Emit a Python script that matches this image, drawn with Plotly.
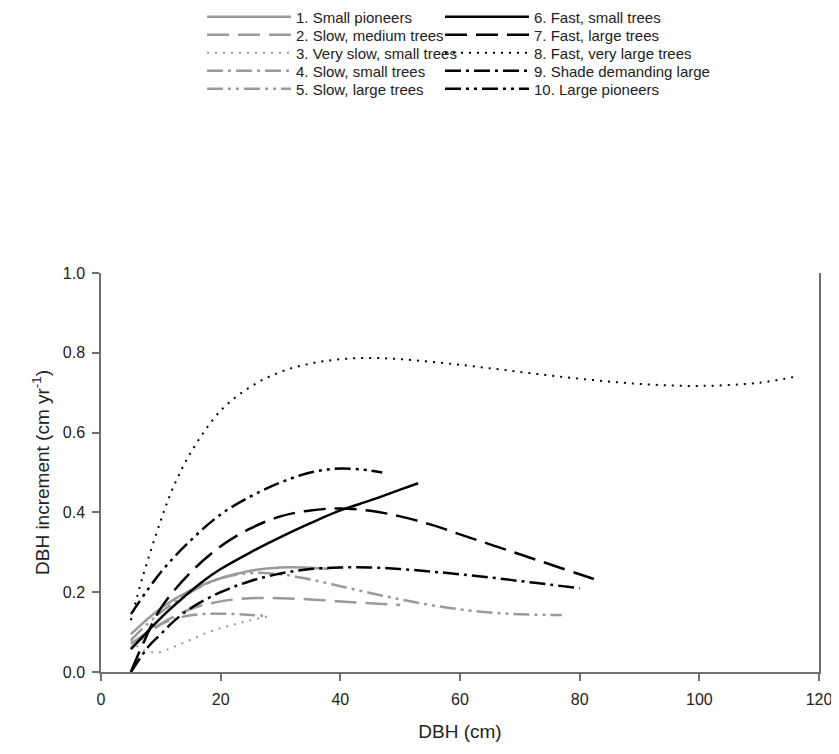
import plotly.graph_objects as go

names = ["1. Small pioneers", "2. Slow, medium trees", "3. Very slow, small trees",
         "4. Slow, small trees", "5. Slow, large trees", "6. Fast, small trees",
         "7. Fast, large trees", "8. Fast, very large trees", "9. Shade demanding large",
         "10. Large pioneers"]

x1 = [5, 10, 15, 20, 25, 30, 35, 38]
y1 = [0.095, 0.16, 0.205, 0.235, 0.254, 0.262, 0.261, 0.258]

x2 = [5, 10, 15, 20, 25, 30, 35, 40, 45, 50]
y2 = [0.06, 0.12, 0.158, 0.177, 0.185, 0.185, 0.182, 0.177, 0.172, 0.168]

x3 = [5, 6, 7.5, 9, 10, 12, 15, 18, 21, 24, 28]
y3 = [0.08, 0.065, 0.053, 0.049, 0.05, 0.062, 0.081, 0.1, 0.114, 0.126, 0.14]

x4 = [5, 10, 15, 20, 25, 28]
y4 = [0.07, 0.12, 0.142, 0.146, 0.143, 0.14]

x5 = [5, 10, 15, 20, 25, 30, 35, 40, 45, 50, 55, 60, 65, 70, 75, 77]
y5 = [0.08, 0.15, 0.2, 0.235, 0.248, 0.245, 0.232, 0.215, 0.198, 0.182, 0.168,
      0.157, 0.149, 0.145, 0.143, 0.143]

x6 = [5, 8, 11, 14, 17, 20, 25, 30, 35, 40, 45, 50, 53]
y6 = [0.057, 0.105, 0.15, 0.19, 0.227, 0.258, 0.3, 0.338, 0.373, 0.405, 0.43, 0.457, 0.473]

x7 = [5, 7, 10, 15, 20, 25, 30, 35, 40, 45, 50, 55, 60, 65, 70, 75, 80, 83]
y7 = [0.0, 0.07, 0.16, 0.25, 0.315, 0.36, 0.39, 0.405, 0.41, 0.404, 0.39, 0.37,
      0.345, 0.32, 0.295, 0.27, 0.245, 0.23]

x8 = [5, 7, 10, 12, 15, 20, 25, 30, 35, 40, 45, 50, 60, 70, 80, 90, 100, 110, 116]
y8 = [0.13, 0.24, 0.38, 0.46, 0.55, 0.655, 0.715, 0.752, 0.773, 0.784, 0.787, 0.784,
      0.77, 0.752, 0.735, 0.722, 0.717, 0.725, 0.74]

x9 = [5, 8, 10, 12, 15, 20, 25, 30, 35, 40, 45, 50, 55, 60, 65, 70, 75, 80]
y9 = [0.0, 0.065, 0.095, 0.125, 0.16, 0.2, 0.228, 0.247, 0.258, 0.262, 0.262, 0.258,
      0.252, 0.245, 0.237, 0.228, 0.219, 0.21]

x10 = [5, 10, 15, 20, 25, 30, 35, 40, 45, 47]
y10 = [0.145, 0.25, 0.33, 0.395, 0.44, 0.475, 0.5, 0.51, 0.505, 0.5]

GRAY = "#9a9a9a"
BLACK = "#000000"
LONGDASH = "22px,9px"
DOT = "2px,6px"
DASHDOT = "16px,5px,3px,5px"
DASHDOTDOT = "16px,5px,3px,5px,3px,5px"

series = [
    (x1, y1, GRAY, "solid", 2.5),
    (x2, y2, GRAY, LONGDASH, 2.5),
    (x3, y3, GRAY, DOT, 2),
    (x4, y4, GRAY, DASHDOT, 2.5),
    (x5, y5, GRAY, DASHDOTDOT, 2.5),
    (x6, y6, BLACK, "solid", 2.5),
    (x7, y7, BLACK, LONGDASH, 2.5),
    (x8, y8, BLACK, DOT, 2),
    (x9, y9, BLACK, DASHDOT, 2.5),
    (x10, y10, BLACK, DASHDOTDOT, 2.5),
]

# The page body adds an 8px offset; figure coordinates are compensated for it.
OFF = 8
L, R, T, B = 101 - OFF, 20 + OFF, 273 - OFF, 82 + OFF
W, H = 839, 754
pw, ph = W - L - R, H - T - B
row_px = [17 - OFF, 35 - OFF, 53 - OFF, 71 - OFF, 89 - OFF]
col_px = [202 - OFF, 440 - OFF]

fig = go.Figure()
legends = {}
for i, (xs, ys, col, dash, w) in enumerate(series):
    key = "legend" if i == 0 else f"legend{i + 1}"
    fig.add_trace(go.Scatter(x=xs, y=ys, mode="lines", name=names[i], legend=key,
                             line=dict(color=col, dash=dash, width=w, shape="spline", smoothing=1.0)))
    c, r = divmod(i, 5)
    legends[key] = dict(
        x=(col_px[c] - L) / pw, xanchor="left",
        y=(H - B - row_px[r]) / ph, yanchor="middle",
        itemwidth=84, borderwidth=0, bgcolor="rgba(0,0,0,0)",
        font=dict(size=15, color="#222222"),
    )

AX = "#707070"
fig.update_layout(
    width=W, height=H,
    margin=dict(l=L, r=R, t=T, b=B, autoexpand=False),
    paper_bgcolor="white", plot_bgcolor="white",
    font=dict(family="Arial, Liberation Sans, sans-serif", size=16, color="#222222"),
    showlegend=True,
    xaxis=dict(range=[0, 120], tickvals=[0, 20, 40, 60, 80, 100, 120],
               showgrid=False, zeroline=False, showline=True, linecolor=AX, linewidth=1.5,
               ticks="outside", ticklen=7, tickcolor=AX, tickwidth=1.5, automargin=False,
               tickfont=dict(size=16), ticklabelstandoff=5,
               title=dict(text="DBH (cm)", font=dict(size=19), standoff=18)),
    yaxis=dict(range=[0, 1.0], tickvals=[0, 0.2, 0.4, 0.6, 0.8, 1.0], tickformat=".1f",
               showgrid=False, zeroline=False, showline=True, linecolor=AX, linewidth=1.5,
               mirror=True,
               ticks="outside", ticklen=7, tickcolor=AX, tickwidth=1.5, automargin=False,
               tickfont=dict(size=16), ticklabelstandoff=4,
               title=dict(text="DBH increment (cm yr<sup>-1</sup>)", font=dict(size=19), standoff=8)),
    **legends,
)

fig.write_html("out.html")
